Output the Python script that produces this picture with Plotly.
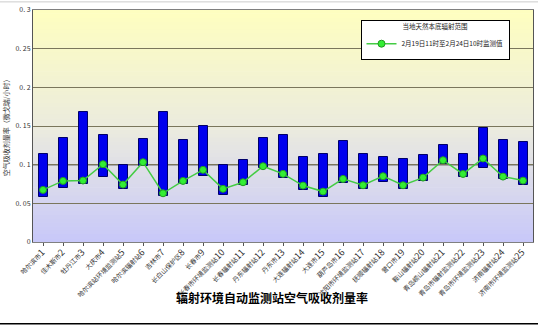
import plotly.graph_objects as go

stations = ["哈尔滨市", "佳木斯市", "牡丹江市", "大庆市", "哈尔滨站环境监测站", "哈尔滨辐射站",
            "吉林市", "长白山保护区", "长春市", "长春市环境监测站", "长春辐射站", "丹东辐射站",
            "丹东市", "大连辐射站", "大连市", "葫芦岛市", "沈阳市环境监测站", "抚顺辐射站",
            "营口市", "鞍山辐射站", "青岛崂山辐射站", "青岛市辐射监测站", "青岛市环境监测站", "济南辐射站", "济南市环境监测站"]
numbers = list(range(1, 26))

range_high = [0.114, 0.134, 0.168, 0.1386, 0.0997, 0.1334, 0.168, 0.132, 0.150, 0.0997,
              0.1062, 0.1347, 0.1386, 0.1097, 0.114, 0.130, 0.114, 0.110, 0.1075, 0.1127,
              0.1256, 0.114, 0.1477, 0.1317, 0.129]
range_low = [0.0587, 0.0704, 0.075, 0.0838, 0.0682, 0.0984, 0.0596, 0.0747, 0.0859, 0.0613,
             0.0734, 0.0963, 0.0825, 0.0674, 0.0587, 0.0769, 0.0687, 0.0782, 0.0687, 0.0795,
             0.1006, 0.0846, 0.0963, 0.0812, 0.0734]
measured = [0.0674, 0.079, 0.0795, 0.1006, 0.0743, 0.1032, 0.063, 0.079, 0.0933, 0.0687,
            0.0773, 0.098, 0.0881, 0.073, 0.0652, 0.0816, 0.0734, 0.0851, 0.0734, 0.0833,
            0.1058, 0.088, 0.108, 0.0846, 0.0794]

y_ticks = [0, 0.05, 0.1, 0.15, 0.2, 0.25, 0.3]
y_tick_text = ["0", "0. 05", "0. 1", "0. 15", "0. 2", "0. 25", "0. 3"]

tick_text = [f"{s}<span style='font-size:9px'>{n}</span>" for s, n in zip(stations, numbers)]
x = list(range(len(stations)))
heights = [h - l for h, l in zip(range_high, range_low)]

fig = go.Figure()

# gradient background bands
n_bands = 60
top = (255, 255, 192)
mid = (236, 236, 222)
bot = (200, 200, 250)
for i in range(n_bands):
    t = (i + 0.5) / n_bands  # 0 bottom -> 1 top
    if t > 0.5:
        u = (t - 0.5) / 0.5
        c = tuple(int(mid[k] + (top[k] - mid[k]) * u) for k in range(3))
    else:
        u = t / 0.5
        c = tuple(int(bot[k] + (mid[k] - bot[k]) * u) for k in range(3))
    fig.add_shape(type="rect", xref="x domain", yref="y domain",
                  x0=0, x1=1, y0=i / n_bands, y1=min(1, (i + 1) / n_bands + 0.003),
                  fillcolor="rgb(%d,%d,%d)" % c, line_width=0, layer="below")

fig.add_trace(go.Bar(
    x=x, y=heights, base=range_low, width=0.45,
    marker=dict(color="#0000EE", line=dict(color="#00006A", width=1)),
    name="当地天然本底辐射范围", showlegend=False,
))
fig.add_trace(go.Scatter(
    x=x, y=measured, mode="lines+markers",
    line=dict(color="#44CC44", width=1.5),
    marker=dict(color="#33EE33", size=7, line=dict(color="#229922", width=1)),
    name="2月19日11时至2月24日10时监测值",
))

# black reference line at 0.1 (drawn below the data)
fig.add_shape(type="line", xref="x domain", yref="y", x0=0, x1=1, y0=0.1, y1=0.1,
              line=dict(color="black", width=1.2), layer="below")
# frame lines of the chart area
fig.add_shape(type="line", xref="paper", yref="paper", x0=-0.066, x1=1.01, y0=1.035, y1=1.035,
              line=dict(color="#cccccc", width=1))
fig.add_shape(type="line", xref="paper", yref="paper", x0=-0.066, x1=1.01, y0=-0.352, y1=-0.352,
              line=dict(color="black", width=1.5))

fig.update_layout(
    width=538, height=325,
    margin=dict(l=33, r=5, t=10, b=83),
    paper_bgcolor="white",
    plot_bgcolor="rgba(0,0,0,0)",
    font=dict(family="Noto Sans CJK SC", size=7, color="#222"),
    bargap=0,
    legend=dict(
        x=0.655, y=0.958, xanchor="left", yanchor="top",
        bgcolor="white", bordercolor="black", borderwidth=1,
        font=dict(size=6.5),
        title=dict(text="当地天然本底辐射范围", side="top center", font=dict(size=6.5)),
        itemwidth=30,
    ),
    annotations=[dict(
        text="<b>辐射环境自动监测站空气吸收剂量率</b>",
        x=0.478, y=-0.24, xref="paper", yref="paper",
        xanchor="center", yanchor="middle", showarrow=False,
        font=dict(size=12, color="black", family="Noto Sans CJK SC"),
    )],
)

fig.update_xaxes(
    range=[-0.5, 24.5],
    tickmode="array", tickvals=x, ticktext=tick_text, tickangle=-45,
    tickfont=dict(size=6.5, color="#333"),
    showgrid=False, showline=True, linecolor="#808080", linewidth=1, mirror=True,
    ticks="outside", ticklen=3, tickcolor="#555", tickson="boundaries",
)
fig.update_yaxes(
    range=[0, 0.3],
    tickmode="array", tickvals=y_ticks, ticktext=y_tick_text,
    tickfont=dict(size=7, color="#333"),
    showgrid=True, gridcolor="#7a765c", gridwidth=1,
    showline=True, linecolor="#555", linewidth=1, mirror=True,
    zeroline=False,
    title=dict(text="空气吸收剂量率（微戈瑞/小时）", font=dict(size=7, color="#333"), standoff=4),
)

fig.write_html("out.html")
